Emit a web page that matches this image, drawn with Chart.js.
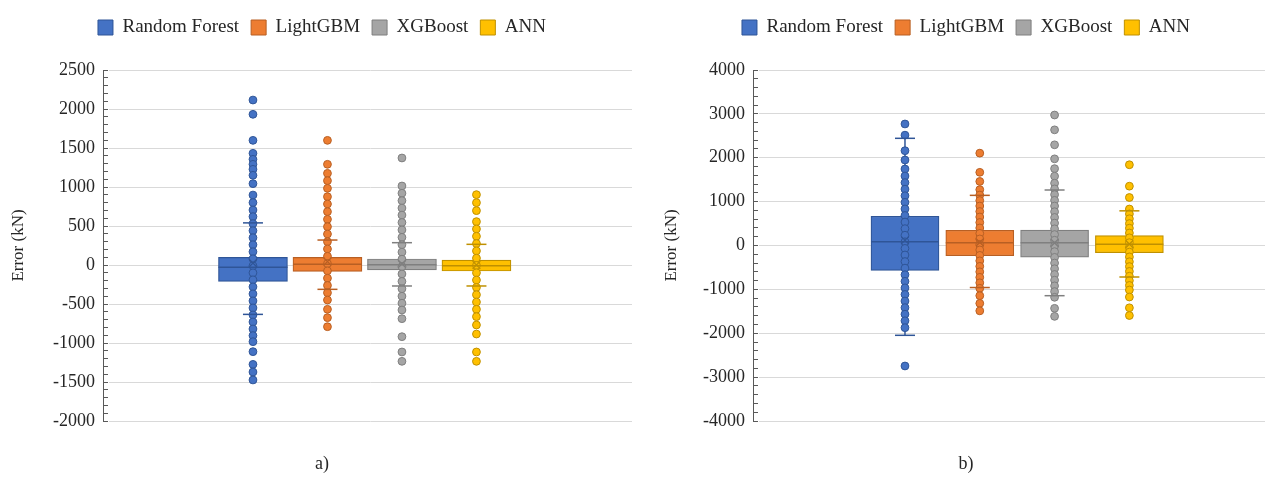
<!DOCTYPE html>
<html>
<head>
<meta charset="utf-8">
<script src="https://cdn.jsdelivr.net/npm/chart.js@4.4.1/dist/chart.umd.min.js"></script>
<style>
  html, body { margin: 0; padding: 0; background: #fff; }
  #wrap { position: relative; width: 1288px; height: 479px; }
  canvas { position: absolute; top: 0; }
  #chartA { left: 0; }
  #chartB { left: 644px; }
</style>
</head>
<body>
<div id="wrap">
  <canvas id="chartA" width="644" height="479"></canvas>
  <canvas id="chartB" width="644" height="479"></canvas>
</div>
<script>
const models = ['Random Forest', 'LightGBM', 'XGBoost', 'ANN'];
const modelPos = [1, 2, 3, 4];

// a) box statistics (kN)
const aQ1 = [-209, -81, -64, -77];
const aMedian = [-30, 10, 4, -9];
const aQ3 = [98, 98, 77, 64];
const aMean = [25, 45, 15, 0];
const aWhiskerLow = [-633, -312, -269, -269];
const aWhiskerHigh = [540, 320, 286, 265];
const aPointsRF = [2115, 1932, 1598, 1432, 1355, 1291, 1227, 1150, 1043, 897, 800, 705, 620, 530, 440, 350, 260, 170, 80, -10, -100, -190, -280, -370, -460, -550, -640, -730, -820, -905, -983, -1111, -1274, -1372, -1474];
const aPointsLGBM = [1598, 1291, 1175, 1081, 983, 876, 782, 684, 586, 491, 397, 299, 206, 112, 18, -75, -169, -262, -356, -449, -568, -675, -791];
const aPointsXGB = [1372, 1013, 920, 825, 730, 640, 545, 450, 355, 260, 165, 75, -20, -115, -210, -305, -400, -490, -577, -688, -919, -1115, -1235];
const aPointsANN = [902, 799, 697, 556, 462, 368, 275, 181, 88, -6, -100, -193, -287, -381, -475, -568, -662, -769, -885, -1115, -1235];
const aTicks = { min: -2000, max: 2500, step: 500, minor: 100 };

// b) box statistics (kN)
const bQ1 = [-566, -232, -266, -164];
const bMedian = [87, 64, 64, 27];
const bQ3 = [665, 346, 350, 224];
const bMean = [120, 70, 60, 30];
const bWhiskerLow = [-2047, -958, -1144, -718];
const bWhiskerHigh = [2443, 1143, 1265, 790];
const bPointsRF = [2770, 2515, 2161, 1949, 1744, 1584, 1434, 1284, 1134, 984, 834, 684, 534, 384, 234, 84, -66, -216, -366, -516, -666, -816, -966, -1116, -1266, -1416, -1566, -1716, -1873, -2746];
const bPointsLGBM = [2105, 1668, 1460, 1273, 1150, 1025, 900, 775, 650, 525, 400, 275, 150, 25, -100, -225, -350, -475, -600, -725, -850, -975, -1144, -1318, -1490];
const bPointsXGB = [2974, 2636, 2295, 1975, 1752, 1580, 1420, 1290, 1160, 1030, 900, 770, 640, 510, 380, 250, 120, -10, -140, -270, -400, -530, -660, -790, -920, -1050, -1180, -1432, -1615];
const bPointsANN = [1840, 1352, 1094, 832, 720, 610, 500, 395, 285, 175, 65, -45, -150, -260, -370, -480, -590, -700, -800, -910, -1014, -1174, -1420, -1596];
const bTicks = { min: -4000, max: 4000, step: 1000, minor: 200 };

const FILL = ['#4472C4', '#ED7D31', '#A5A5A5', '#FFC000'];
const EDGE = ['#2F5597', '#B85F23', '#7F7F7F', '#BF9000'];
const FONT = '"Liberation Serif", "Times New Roman", serif';
const INK = '#262626';

// stretch the legend box so there is a gap between it and the plot
const legendSpacer = {
    id: 'legendSpacer',
    beforeLayout(chart, args, opts) {
        const legend = chart.legend;
        if (!legend || legend._spaced) return;
        const fit = legend.fit;
        legend.fit = function () {
            fit.call(this);
            this.height = opts.height;
        };
        legend._spaced = true;
    }
};

function boxPlot(canvasId, p) {
    const datasets = [];
    models.forEach((m, i) => {
        const x = modelPos[i];
        // whisker stem, sits behind the box
        datasets.push({
            type: 'line', order: 4,
            data: [{ x, y: p.lo[i] }, { x, y: p.hi[i] }],
            borderColor: EDGE[i], borderWidth: 1.5, pointRadius: 0
        });
        datasets.push({
            type: 'bar', order: 3, label: m,
            data: [{ x, y: [p.q1[i], p.q3[i]] }],
            backgroundColor: FILL[i], borderColor: EDGE[i], borderWidth: 1.2,
            borderSkipped: false, grouped: false,
            categoryPercentage: 1, barPercentage: 1, maxBarThickness: p.boxWidth
        });
        datasets.push({
            type: 'scatter', order: 2,
            data: p.points[i].map(v => ({ x, y: v })),
            backgroundColor: FILL[i], borderColor: EDGE[i], borderWidth: 1, pointRadius: 3.9
        });
        // median line
        datasets.push({
            type: 'scatter', order: 1,
            data: [{ x, y: p.median[i] }],
            pointStyle: 'line', pointRadius: p.boxWidth / 2, borderColor: EDGE[i], borderWidth: 1.5
        });
        // whisker caps
        datasets.push({
            type: 'scatter', order: 1,
            data: [{ x, y: p.lo[i] }, { x, y: p.hi[i] }],
            pointStyle: 'line', pointRadius: 10, borderColor: EDGE[i], borderWidth: 1.5
        });
        // mean marker
        datasets.push({
            type: 'scatter', order: 0,
            data: [{ x, y: p.mean[i] }],
            pointStyle: 'crossRot', pointRadius: 5.5, borderColor: EDGE[i], borderWidth: 1.3
        });
    });

    return new Chart(document.getElementById(canvasId), {
        type: 'bar',
        data: { datasets },
        plugins: [legendSpacer],
        options: {
            responsive: false,
            animation: false,
            events: [],
            layout: { autoPadding: false, padding: { top: 6, left: 0, right: 0, bottom: 0 } },
            scales: {
                x: {
                    type: 'linear', display: false, offset: false,
                    min: p.xMin, max: p.xMax,
                    ticks: { stepSize: 1, includeBounds: false }
                },
                y: {
                    type: 'linear', position: 'left', weight: 1,
                    min: p.ticks.min, max: p.ticks.max,
                    ticks: {
                        stepSize: p.ticks.step, color: INK, padding: 8,
                        font: { family: FONT, size: 18 },
                        callback: v => String(v)
                    },
                    grid: { color: '#D9D9D9', lineWidth: 1, drawTicks: false },
                    border: { display: true, color: '#595959', width: 1 },
                    title: {
                        display: true, text: 'Error (kN)', color: INK,
                        font: { family: FONT, size: 17 },
                        padding: { top: p.titlePad, bottom: 0 }
                    },
                    afterFit: s => { s.width = p.axisRight; }
                },
                yMinor: {
                    type: 'linear', position: 'left', weight: 0,
                    min: p.ticks.min, max: p.ticks.max,
                    ticks: { display: false, stepSize: p.ticks.minor },
                    grid: { drawOnChartArea: false, drawTicks: true, tickLength: 5, color: '#595959' },
                    border: { display: false },
                    afterFit: s => { s.width = 5; }
                },
                yPad: {
                    type: 'linear', position: 'right',
                    ticks: { display: false }, grid: { display: false }, border: { display: false },
                    afterFit: s => { s.width = p.padRight; }
                }
            },
            plugins: {
                tooltip: { enabled: false },
                legendSpacer: { height: 64 },
                legend: {
                    position: 'top',
                    labels: {
                        color: INK,
                        boxWidth: 15, boxHeight: 15, padding: 12,
                        font: { family: FONT, size: 19 },
                        generateLabels: () => models.map((m, i) => ({
                            text: m, fillStyle: FILL[i], strokeStyle: EDGE[i],
                            lineWidth: 1, hidden: false, fontColor: INK
                        }))
                    }
                },
                title: {
                    display: true, position: 'bottom', text: p.caption, color: INK,
                    font: { family: FONT, size: 18, weight: 'normal' },
                    padding: { top: 32.4, bottom: 4 }
                }
            }
        }
    });
}

boxPlot('chartA', {
    caption: 'a)',
    q1: aQ1, median: aMedian, q3: aQ3, mean: aMean, lo: aWhiskerLow, hi: aWhiskerHigh,
    points: [aPointsRF, aPointsLGBM, aPointsXGB, aPointsANN],
    ticks: aTicks,
    xMin: -0.946, xMax: 6.088,
    axisRight: 103, padRight: 12, boxWidth: 69, titlePad: 8
});

boxPlot('chartB', {
    caption: 'b)',
    q1: bQ1, median: bMedian, q3: bQ3, mean: bMean, lo: bWhiskerLow, hi: bWhiskerHigh,
    points: [bPointsRF, bPointsLGBM, bPointsXGB, bPointsANN],
    ticks: bTicks,
    xMin: -0.965, xMax: 5.813,
    axisRight: 109, padRight: 23, boxWidth: 68, titlePad: 17
});
</script>
</body>
</html>
